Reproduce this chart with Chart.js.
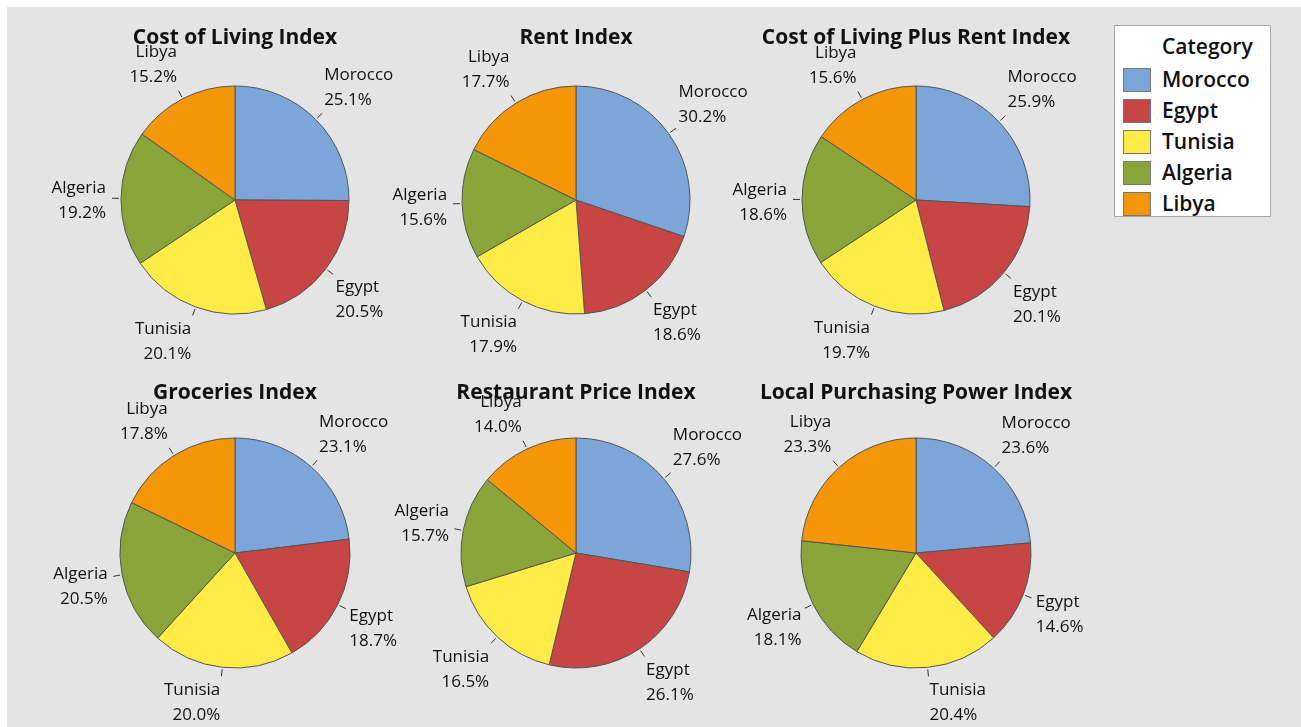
<!DOCTYPE html>
<html>
<head>
<meta charset="utf-8">
<title>North Africa price indices</title>
<script src="https://cdn.jsdelivr.net/npm/chart.js@4.4.0/dist/chart.umd.min.js"></script>
<style>
  html, body { margin: 0; padding: 0; width: 1301px; height: 727px; overflow: hidden; background: #ffffff; }
  #panel { position: absolute; left: 7px; top: 7px; width: 1294px; height: 720px; background: #e4e4e4; }
  .pie { position: absolute; }
  #legend {
    position: absolute; left: 1114px; top: 25px; width: 155px; height: 190px;
    background: #ffffff; border: 1px solid #a8a8a8;
    font-family: "Open Sans", sans-serif; font-weight: 600; font-size: 21px; color: #111;
  }
  #legend .head { position: absolute; left: 47px; top: 6px; line-height: 28px; }
  #legend .row { position: absolute; left: 8px; height: 24px; }
  #legend .sw { position: absolute; left: 0; top: 0; width: 26px; height: 22px; border: 1px solid #777; }
  #legend .txt { position: absolute; left: 39px; top: -3px; line-height: 28px; white-space: nowrap; }
</style>
</head>
<body>
<div id="panel"></div>
<div id="legend"></div>
<script>
// ---- data ----
const countries = ['Morocco', 'Egypt', 'Tunisia', 'Algeria', 'Libya'];
const sliceColors = ['#7ca6d9', '#c84545', '#ffeb46', '#89a53a', '#f49608'];

const titles = [
  'Cost of Living Index', 'Rent Index', 'Cost of Living Plus Rent Index',
  'Groceries Index', 'Restaurant Price Index', 'Local Purchasing Power Index'
];

const costOfLiving     = [25.1, 20.5, 20.1, 19.2, 15.2];
const rentIndex        = [30.2, 18.6, 17.9, 15.6, 17.7];
const costPlusRent     = [25.9, 20.1, 19.7, 18.6, 15.6];
const groceries        = [23.1, 18.7, 20.0, 20.5, 17.8];
const restaurantPrice  = [27.6, 26.1, 16.5, 15.7, 14.0];
const purchasingPower  = [23.6, 14.6, 20.4, 18.1, 23.3];

const seriesList = [costOfLiving, rentIndex, costPlusRent, groceries, restaurantPrice, purchasingPower];

// ---- layout ----
const pieCenterX = [235, 576, 916];
const pieCenterY = [200, 553];
const titleY = [38, 393];
const pieRadius = [114, 115];
const canvasW = 400, canvasH = 380;

/**
 * Draws the title, leader lines and two-line labels for a pie
 */
const pieLabels = {
  id: 'pieLabels',
  afterDatasetsDraw(chart, args, opts) {
    const ctx = chart.ctx;
    const meta = chart.getDatasetMeta(0);
    const values = chart.data.datasets[0].data;
    const lh = 25;

    ctx.save();
    ctx.fillStyle = '#111';
    ctx.font = 'bold 21px "Open Sans"';
    ctx.textAlign = 'center';
    ctx.textBaseline = 'middle';
    ctx.fillText(opts.title, canvasW / 2, opts.titleY);

    ctx.font = '17px "Open Sans"';
    ctx.strokeStyle = '#333';
    ctx.lineWidth = 1;
    meta.data.forEach((arc, i) => {
      const p = arc.getProps(['x', 'y', 'startAngle', 'endAngle', 'outerRadius'], true);
      const mid = (p.startAngle + p.endAngle) / 2;
      const dx = Math.cos(mid), dy = Math.sin(mid);
      const r = p.outerRadius;

      ctx.beginPath();
      ctx.moveTo(p.x + dx * (r + 2), p.y + dy * (r + 2));
      ctx.lineTo(p.x + dx * (r + 9), p.y + dy * (r + 9));
      ctx.stroke();

      const ex = p.x + dx * (r + 10);
      const ey = p.y + dy * (r + 10);
      const k = Math.max(-1, Math.min(1, dy * 1.6));
      // side labels sit a little lower and further out
      const side = Math.pow(Math.abs(dx), 8);
      const blockMid = ey + k * lh + 3 * side;
      ctx.textAlign = dx >= 0 ? 'left' : 'right';
      ctx.textBaseline = 'middle';
      const tx = ex + (dx >= 0 ? 1 : -1) * (1 + 4 * side);
      ctx.fillText(chart.data.labels[i], tx, blockMid - lh / 2);
      ctx.fillText(values[i].toFixed(1) + '%', tx, blockMid + lh / 2);
    });
    ctx.restore();
  }
};

const charts = [];
seriesList.forEach((series, idx) => {
  const col = idx % 3, row = Math.floor(idx / 3);
  const left = pieCenterX[col] - canvasW / 2;
  const top = pieCenterY[row] - canvasH / 2;

  const canvas = document.createElement('canvas');
  canvas.className = 'pie';
  canvas.width = canvasW;
  canvas.height = canvasH;
  canvas.style.left = left + 'px';
  canvas.style.top = top + 'px';
  document.body.appendChild(canvas);

  charts.push(new Chart(canvas, {
    type: 'pie',
    data: {
      labels: countries,
      datasets: [{
        data: series,
        backgroundColor: sliceColors,
        borderColor: '#555555',
        borderWidth: 1,
        radius: pieRadius[row]
      }]
    },
    options: {
      responsive: false,
      animation: false,
      events: [],
      layout: { padding: 0 },
      plugins: {
        legend: { display: false },
        title: { display: false },
        tooltip: { enabled: false },
        pieLabels: { title: titles[idx], titleY: titleY[row] - top }
      }
    },
    plugins: [pieLabels]
  }));
});

// ---- legend ----
const legend = document.getElementById('legend');
const head = document.createElement('div');
head.className = 'head';
head.textContent = 'Category';
legend.appendChild(head);
countries.forEach((name, i) => {
  const row = document.createElement('div');
  row.className = 'row';
  row.style.top = (42 + i * 31) + 'px';
  row.innerHTML = '<div class="sw" style="background:' + sliceColors[i] + '"></div><div class="txt">' + name + '</div>';
  legend.appendChild(row);
});
</script>
</body>
</html>
